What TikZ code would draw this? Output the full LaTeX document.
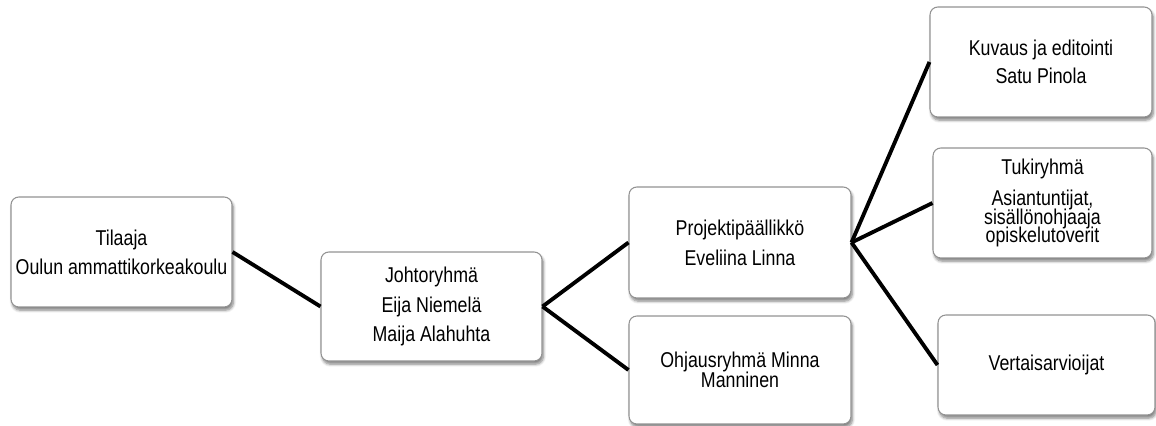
\documentclass[tikz,border=0pt]{standalone}
\usepackage{fontspec}
\setmainfont[FakeStretch=0.83]{Liberation Sans}
\usetikzlibrary{shadows.blur}
\lineskiplimit=-20pt
\begin{document}
\begin{tikzpicture}[
    box/.style={draw=gray!85, line width=0.6pt, rounded corners=4.5pt, fill=white,
      blur shadow={shadow xshift=0.8pt, shadow yshift=-1.8pt, shadow blur steps=6,
        shadow blur radius=1.6pt, shadow opacity=50},
      align=center, inner sep=0pt, minimum width=4.42cm, minimum height=2.2cm,
      font=\fontsize{12.2}{16.5}\selectfont},
    link/.style={line width=2.2pt}
  ]
  \useasboundingbox (0,0) rectangle (23.12,-8.52);
  \draw
    (2.43,-5.04) node[box] (tilaaja){Tilaaja\\Oulun ammattikorkeakoulu}
    (8.63,-6.13) node[box, minimum height=2.18cm] (johto){Johtoryhmä\\[0.5pt]Eija Niemelä\\[0.5pt]Maija Alahuhta}
    (14.8,-4.85) node[box, minimum width=4.44cm, minimum height=2.22cm] (projekti){Projektipäällikkö\\[0.5pt]Eveliina Linna}
    (14.8,-7.4) node[box, minimum width=4.44cm, minimum height=2.16cm,
      font=\fontsize{12.2}{11.2}\selectfont] (ohjaus){Ohjausryhmä Minna\\Manninen}
    (20.82,-1.24) node[box, minimum width=4.44cm] (kuvaus){Kuvaus ja editointi\\[-0.5pt]Satu Pinola}
    (20.85,-4.06) node[box, minimum width=4.38cm,
      font=\fontsize{12.2}{10.4}\selectfont] (tuki){Tukiryhmä\\[7.4pt]Asiantuntijat,\\sisällönohjaaja\\opiskelutoverit}
    (20.93,-7.3) node[box, minimum width=4.34cm, minimum height=2cm] (vertais){Vertaisarvioijat};
  \begin{scope}[link]
    \draw (tilaaja.east) to (johto.west);
    \draw (johto.east) to (projekti.west);
    \draw (johto.east) to (ohjaus.west);
    \draw (projekti.east) to (kuvaus.west);
    \draw (projekti.east) to (tuki.west);
    \draw (projekti.east) to (vertais.west);
  \end{scope}
\end{tikzpicture}
\end{document}
